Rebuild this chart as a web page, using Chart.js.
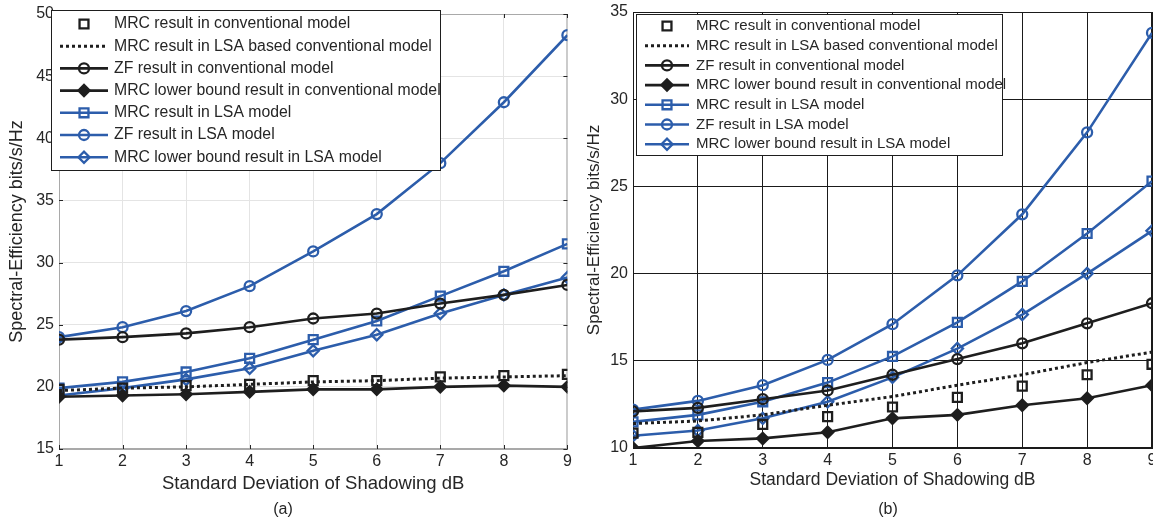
<!DOCTYPE html>
<html>
<head>
<meta charset="utf-8">
<title>Spectral efficiency vs shadowing</title>
<script src="https://cdn.jsdelivr.net/npm/chart.js@4.4.1/dist/chart.umd.min.js"></script>
<style>
  body { margin: 0; background: #fff; width: 1153px; height: 523px; overflow: hidden; position: relative; font-family: "Liberation Sans", Arial, sans-serif; }
  .wrap { position: absolute; top: 0; height: 523px; }
  #wrapA { left: 0; width: 576px; }
  #wrapB { left: 576px; width: 590px; }
  .cap { position: absolute; top: 500px; width: 40px; text-align: center; font-size: 16px; color: #262626; }
</style>
</head>
<body>
<div class="wrap" id="wrapA"><canvas id="chartA" width="576" height="523"></canvas></div>
<div class="wrap" id="wrapB"><canvas id="chartB" width="590" height="523"></canvas></div>
<div class="cap" style="left:263px">(a)</div>
<div class="cap" style="left:868px">(b)</div>
<script>
// x values and tick labels
var shadowStd = [1, 2, 3, 4, 5, 6, 7, 8, 9];
var yTicksA = [15, 20, 25, 30, 35, 40, 45, 50];
var yTicksB = [10, 15, 20, 25, 30, 35];

var seriesNames = [
    'MRC result in conventional model',
    'MRC result in LSA based conventional model',
    'ZF result in conventional model',
    'MRC lower bound result in conventional model',
    'MRC result in LSA model',
    'ZF result in LSA model',
    'MRC lower bound result in LSA model'
];

// figure (a)
var mrcConvA    = [19.8, 19.9, 20.1, 20.2, 20.5, 20.5, 20.8, 20.9, 21.0];
var mrcLsaConvA = [19.7, 19.9, 20.0, 20.2, 20.4, 20.5, 20.7, 20.8, 20.9];
var zfConvA     = [23.8, 24.0, 24.3, 24.8, 25.5, 25.9, 26.7, 27.4, 28.2];
var mrcLbConvA  = [19.2, 19.3, 19.4, 19.6, 19.8, 19.8, 20.0, 20.1, 20.0];
var mrcLsaA     = [19.9, 20.4, 21.2, 22.3, 23.8, 25.3, 27.3, 29.3, 31.5];
var zfLsaA      = [24.0, 24.8, 26.1, 28.1, 30.9, 33.9, 38.0, 42.9, 48.3];
var mrcLbLsaA   = [19.3, 19.9, 20.6, 21.5, 22.9, 24.2, 25.9, 27.4, 28.8];

// figure (b)
var mrcConvB    = [10.85, 10.9, 11.35, 11.8, 12.35, 12.9, 13.55, 14.2, 14.8];
var mrcLsaConvB = [11.4, 11.55, 11.9, 12.45, 12.95, 13.6, 14.2, 14.9, 15.5];
var zfConvB     = [12.1, 12.3, 12.8, 13.3, 14.2, 15.1, 16.0, 17.15, 18.3];
var mrcLbConvB  = [10.0, 10.4, 10.55, 10.9, 11.7, 11.9, 12.45, 12.85, 13.6];
var mrcLsaB     = [11.5, 11.9, 12.65, 13.75, 15.25, 17.2, 19.55, 22.3, 25.3];
var zfLsaB      = [12.2, 12.7, 13.6, 15.05, 17.1, 19.9, 23.4, 28.1, 33.8];
var mrcLbLsaB   = [10.7, 11.0, 11.7, 12.65, 14.05, 15.7, 17.65, 20.0, 22.45];

var BLACK = '#1e1e1e';
var BLUE = '#2c5dab';
var TEXT = '#262626';

Chart.defaults.font.family = '"Liberation Sans", Arial, sans-serif';
Chart.defaults.color = TEXT;

function pts(values) {
    return values.map(function(v, i) { return {x: shadowStd[i], y: v}; });
}

function buildDatasets(list) {
    // marker / line style per series, in legend order
    var styles = [
        {color: BLACK, marker: 'rect', line: false, fill: 'transparent'},
        {color: BLACK, marker: false, line: true, dash: [3, 3], width: 3},
        {color: BLACK, marker: 'circle', line: true, fill: 'transparent'},
        {color: BLACK, marker: 'rectRot', line: true, fill: BLACK},
        {color: BLUE, marker: 'rect', line: true, fill: 'transparent'},
        {color: BLUE, marker: 'circle', line: true, fill: 'transparent'},
        {color: BLUE, marker: 'rectRot', line: true, fill: 'transparent'}
    ];
    var radius = {rect: 6.3, circle: 5, rectRot: 5.6};
    return list.map(function(values, i) {
        var s = styles[i];
        return {
            label: seriesNames[i],
            data: pts(values),
            showLine: s.line,
            borderColor: s.color,
            backgroundColor: s.color,
            borderWidth: s.width || 2.6,
            borderDash: s.dash || [],
            pointStyle: s.marker || 'circle',
            pointRadius: s.marker ? radius[s.marker] : 0,
            pointBorderWidth: 2.3,
            pointBorderColor: s.color,
            pointBackgroundColor: s.fill || 'transparent',
            tension: 0
        };
    });
}

// box around plot area plus small inward tick marks
var framePlugin = {
    id: 'frame',
    beforeDatasetsDraw: function(chart, args, o) {
        var a = chart.chartArea, ctx = chart.ctx;
        ctx.save();
        ctx.strokeStyle = o.color;
        ctx.lineWidth = 1;
        ctx.strokeRect(a.left + 0.5, a.top + 0.5, a.right - a.left - 1, a.bottom - a.top - 1);
        if (o.tickMarks) {
            ctx.strokeStyle = TEXT;
            ctx.beginPath();
            chart.scales.x.ticks.forEach(function(t) {
                var px = Math.round(chart.scales.x.getPixelForValue(t.value)) + 0.5;
                ctx.moveTo(px, a.bottom); ctx.lineTo(px, a.bottom - 4);
                ctx.moveTo(px, a.top); ctx.lineTo(px, a.top + 4);
            });
            chart.scales.y.ticks.forEach(function(t) {
                var py = Math.round(chart.scales.y.getPixelForValue(t.value)) + 0.5;
                ctx.moveTo(a.left, py); ctx.lineTo(a.left + 4, py);
                ctx.moveTo(a.right, py); ctx.lineTo(a.right - 4, py);
            });
            ctx.stroke();
        }
        ctx.restore();
    }
};

// legend drawn as a boxed table inside the plot, MATLAB style
var boxLegend = {
    id: 'boxLegend',
    afterDraw: function(chart, args, o) {
        var ctx = chart.ctx;
        ctx.save();
        ctx.fillStyle = '#fff';
        ctx.fillRect(o.left, o.top, o.width, o.height);
        ctx.strokeStyle = BLACK;
        ctx.lineWidth = 1;
        ctx.strokeRect(o.left + 0.5, o.top + 0.5, o.width, o.height);
        ctx.font = o.fontSize + 'px "Liberation Sans", Arial, sans-serif';
        ctx.textBaseline = 'middle';
        chart.data.datasets.forEach(function(ds, i) {
            var y = o.firstRow + i * o.rowStep;
            var mid = (o.lineFrom + o.lineTo) / 2;
            // sample line (the dotted series has no markers, only a line)
            if (ds.showLine || ds.pointRadius === 0) {
                ctx.beginPath();
                ctx.setLineDash(ds.borderDash);
                ctx.strokeStyle = ds.borderColor;
                ctx.lineWidth = ds.borderWidth;
                ctx.moveTo(o.lineFrom, y);
                ctx.lineTo(o.lineTo, y);
                ctx.stroke();
                ctx.setLineDash([]);
            }
            if (ds.pointRadius > 0) {
                ctx.fillStyle = ds.pointBackgroundColor;
                ctx.strokeStyle = ds.pointBorderColor;
                ctx.lineWidth = ds.pointBorderWidth;
                Chart.helpers.drawPoint(ctx, {
                    pointStyle: ds.pointStyle,
                    radius: ds.pointRadius,
                    borderWidth: ds.pointBorderWidth,
                    rotation: 0
                }, mid, y);
            }
            ctx.fillStyle = TEXT;
            ctx.fillText(ds.label, o.textX, y);
        });
        ctx.restore();
    }
};

function makeChart(id, datasets, cfg) {
    return new Chart(document.getElementById(id), {
        type: 'scatter',
        data: {datasets: datasets},
        options: {
            responsive: false,
            animation: false,
            events: [],
            layout: {padding: cfg.padding},
            plugins: {
                legend: {display: false},
                tooltip: {enabled: false},
                frame: {color: cfg.frameColor, tickMarks: cfg.tickMarks},
                boxLegend: cfg.legend
            },
            scales: {
                x: {
                    type: 'linear',
                    min: 1,
                    max: 9,
                    afterBuildTicks: function(scale) {
                        scale.ticks = shadowStd.map(function(v) { return {value: v}; });
                    },
                    afterFit: function(scale) {
                        scale.height = cfg.xHeight;
                        scale.paddingLeft = 0;
                        scale.paddingRight = 0;
                    },
                    ticks: {padding: 3, font: {size: 16}, color: TEXT, maxRotation: 0},
                    grid: {color: cfg.gridColor, drawTicks: false},
                    border: {color: cfg.frameColor},
                    title: {
                        display: true,
                        text: 'Standard Deviation of Shadowing dB',
                        font: {size: cfg.xTitleSize},
                        color: TEXT,
                        padding: {top: 0, bottom: cfg.xTitlePad}
                    }
                },
                y: {
                    type: 'linear',
                    min: cfg.yTicks[0],
                    max: cfg.yTicks[cfg.yTicks.length - 1],
                    afterBuildTicks: function(scale) {
                        scale.ticks = cfg.yTicks.map(function(v) { return {value: v}; });
                    },
                    afterFit: function(scale) {
                        scale.width = cfg.yWidth;
                        scale.paddingTop = 0;
                        scale.paddingBottom = 0;
                    },
                    ticks: {padding: 5, font: {size: 16}, color: TEXT},
                    grid: {color: cfg.gridColor, drawTicks: false},
                    border: {color: cfg.frameColor},
                    title: {
                        display: true,
                        text: 'Spectral-Efficiency bits/s/Hz',
                        font: {size: cfg.yTitleSize},
                        color: TEXT,
                        padding: {top: cfg.yTitlePad, bottom: 0}
                    }
                }
            }
        },
        plugins: [framePlugin, boxLegend]
    });
}

makeChart('chartA',
    buildDatasets([mrcConvA, mrcLsaConvA, zfConvA, mrcLbConvA, mrcLsaA, zfLsaA, mrcLbLsaA]), {
    padding: {top: 14, right: 8, left: 0, bottom: 0},
    yWidth: 59,
    xHeight: 74,
    xTitleSize: 18.5,
    xTitlePad: 28,
    yTitleSize: 18,
    yTitlePad: 6,
    yTicks: yTicksA,
    gridColor: '#e4e4e4',
    frameColor: '#a9a9a9',
    tickMarks: true,
    legend: {left: 51, top: 10, width: 389, height: 160, firstRow: 24, rowStep: 22.2,
             lineFrom: 60, lineTo: 108, textX: 114, fontSize: 15.8}
});

// canvas (b) is wider than the window so the last x label is cut at the edge
makeChart('chartB',
    buildDatasets([mrcConvB, mrcLsaConvB, zfConvB, mrcLbConvB, mrcLsaB, zfLsaB, mrcLbLsaB]), {
    padding: {top: 12, right: 14, left: 0, bottom: 0},
    yWidth: 57,
    xHeight: 75,
    xTitleSize: 17.5,
    xTitlePad: 32,
    yTitleSize: 17,
    yTitlePad: 8,
    yTicks: yTicksB,
    gridColor: '#1a1a1a',
    frameColor: '#1a1a1a',
    tickMarks: false,
    legend: {left: 60, top: 14, width: 366, height: 141, firstRow: 26, rowStep: 19.7,
             lineFrom: 69, lineTo: 113, textX: 120, fontSize: 15}
});
</script>
</body>
</html>
